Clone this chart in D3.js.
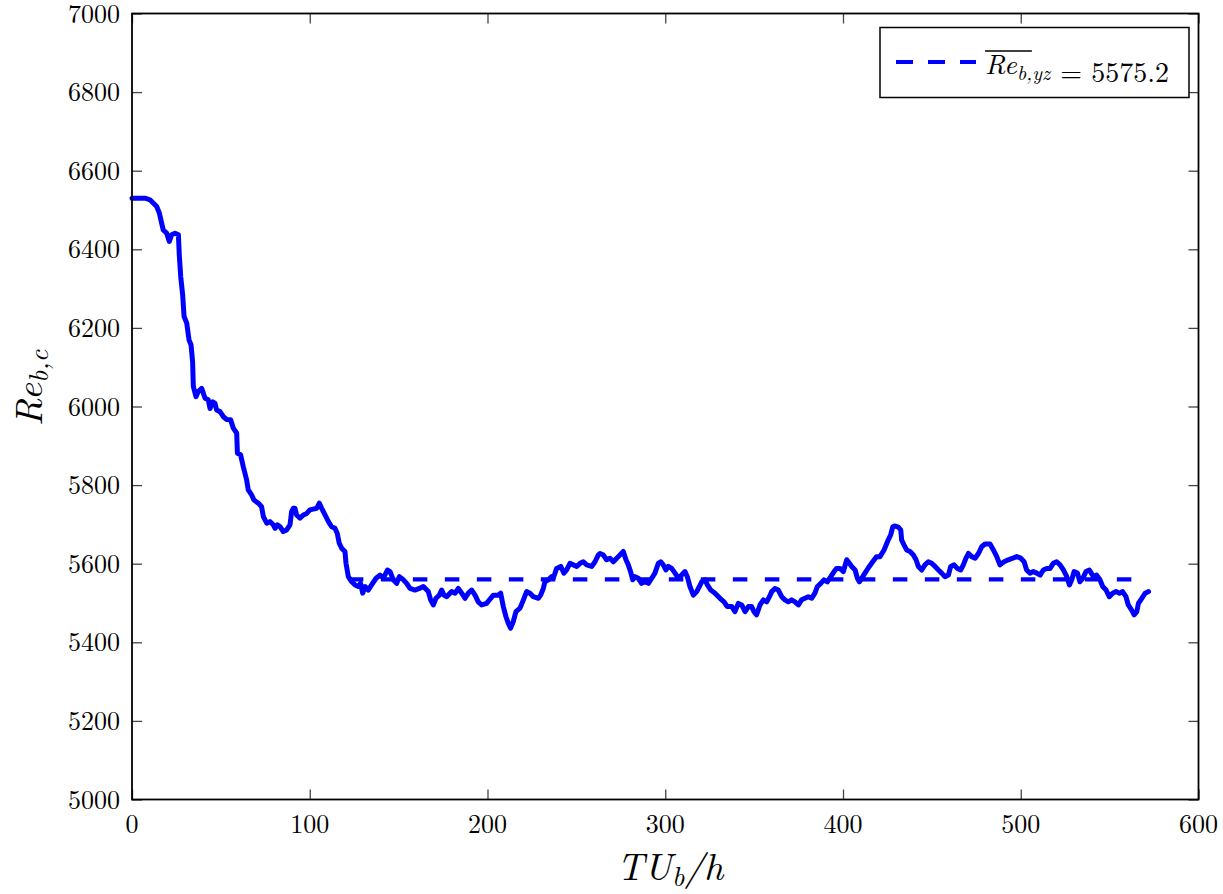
<!DOCTYPE html>
<html>
<head>
<meta charset="utf-8">
<script src="https://cdn.jsdelivr.net/npm/d3@7/dist/d3.min.js"></script>
<style>
  html, body { margin: 0; padding: 0; background: #ffffff; }
  svg { display: block; }
</style>
</head>
<body>
<svg id="chart" width="1223" height="894"></svg>
<script>
// ---------------- DATA ----------------
const xTicks = [0, 100, 200, 300, 400, 500, 600];
const yTicks = [5000, 5200, 5400, 5600, 5800, 6000, 6200, 6400, 6600, 6800, 7000];
const xDomain = [0, 600];
const yDomain = [5000, 7000];

const timeUb = [
  0, 7.3, 10.1, 13.9, 15.4, 16.7, 17.6, 19.5, 21.0, 22.3, 24.2, 26.1, 26.6, 27.4, 28.5, 29.3, 30.8, 32.1, 33.2, 34.1,
  34.5, 36.0, 37.3, 39.2, 41.1, 42.9, 43.9, 45.4, 46.7, 47.6, 49.5, 51.4, 53.3, 55.5, 57.0, 58.9, 59.3, 61.1, 62.6, 64.5,
  65.4, 67.3, 68.6, 71.1, 72.9, 73.9, 75.8, 77.6, 79.5, 80.5, 81.8, 83.3, 85.1, 87.0, 88.9, 89.8, 90.8, 91.7, 92.6, 94.5,
  96.4, 98.3, 100.1, 102.0, 103.9, 105.4, 106.7, 108.6, 110.5, 112.3, 114.2, 115.5, 116.6, 118.0, 119.8,
  120.4, 121.7, 123.6, 125.5, 127.3, 128.6, 129.8, 131.1, 132.9, 134.8, 137.3, 139.5, 141.4, 143.7, 145.2, 147.0, 148.9, 150.4, 152.7, 154.5,
  156.4, 159.2, 161.7, 163.9, 166.7, 168.0, 169.5, 171.0, 172.9, 174.2, 175.5, 177.0, 179.8, 181.7, 183.6, 185.5, 187.3, 189.2, 191.1, 193.0,
  194.8, 196.7, 199.5, 201.8, 203.3, 206.1, 207.4, 208.9, 210.4, 211.7, 213.0, 214.5, 216.0, 218.3, 220.2, 222.0, 223.9, 225.8, 228.6, 229.9,
  231.4, 232.3, 234.2, 236.1, 237.0, 238.9, 241.2, 243.0, 244.5, 246.4, 248.3, 250.2, 252.1, 253.9, 255.8, 258.6, 260.5, 262.3,
  263.3, 265.2, 267.0, 268.9, 270.8, 272.7, 274.5, 276.4, 277.9, 279.2, 280.5, 281.7, 283.0, 284.9, 286.7, 288.6, 290.5, 292.4, 294.2, 296.1,
  297.4, 298.9, 300.4, 301.7, 303.6, 305.5, 307.4, 309.2, 311.1, 312.4, 313.9, 315.8, 317.7, 319.2, 320.5, 322.4, 323.7, 325.6, 328.0, 330.8,
  333.1, 334.9, 337.4, 339.2, 341.1, 343.0, 344.9, 346.8, 348.6, 349.9, 351.4, 353.3, 355.2, 357.1, 358.6, 359.9, 361.7, 363.6, 365.5, 367.3,
  369.2, 371.1, 373.0, 374.9, 376.7, 378.6, 380.5, 382.4, 384.2, 385.6, 387.5, 389.3, 391.2, 393.1, 395.0, 396.4, 398.3, 400.2, 402.1, 403.6,
  404.9, 406.8, 408.1, 409.2, 411.1, 412.9, 414.8, 416.7, 418.9,
  420.8, 423.1, 425.0, 426.8, 428.0, 429.3, 431.1, 432.5, 433.0, 434.3, 435.8, 437.7, 439.6, 441.1, 442.4, 444.3, 446.1, 448.0, 449.9, 451.8,
  453.7, 455.5, 457.4, 459.3, 460.6, 462.5, 464.3, 466.2, 467.7, 469.2, 470.6, 472.4, 474.3, 476.2, 478.0, 479.9, 482.7, 484.6, 486.5, 488.3,
  490.6, 493.0, 495.5, 497.7, 500.0, 501.9, 503.3, 505.2, 507.1, 509.0, 510.9, 512.7, 514.6, 516.5, 518.3, 520.2, 522.1, 524.0, 525.9, 527.4,
  528.7, 530.0, 531.9, 533.3, 534.9, 536.7, 538.6, 540.9, 542.7, 544.6, 546.1, 548.0, 549.8, 551.7, 553.6, 555.5, 557.3, 559.2, 560.5, 562.4,
  563.8, 565.3, 566.2, 568.1, 570.0, 571.9
];

const reBc = [
  6530, 6530, 6526, 6509, 6492, 6466, 6449, 6441, 6420, 6437, 6441, 6437, 6386, 6331, 6284, 6229, 6212, 6169, 6157, 6114,
  6051, 6025, 6038, 6046, 6021, 6017, 5995, 6012, 6008, 5991, 5987, 5974, 5967, 5966, 5945, 5932, 5881, 5877, 5847, 5813,
  5788, 5775, 5762, 5754, 5745, 5720, 5703, 5707, 5699, 5690, 5699, 5694, 5682, 5686, 5699, 5733, 5741, 5741, 5724, 5716,
  5724, 5728, 5737, 5739, 5741, 5754, 5741, 5724, 5707, 5694, 5690, 5677, 5652, 5639, 5631,
  5601, 5567, 5554, 5546, 5542, 5550, 5525, 5542, 5533, 5546, 5563, 5571, 5563, 5584, 5580, 5559, 5550, 5567, 5559, 5550,
  5537, 5533, 5537, 5542, 5529, 5508, 5495, 5512, 5520, 5533, 5520, 5516, 5529, 5525, 5537, 5525, 5512, 5525, 5533, 5520,
  5503, 5495, 5499, 5512, 5520, 5520, 5525, 5491, 5465, 5448, 5436, 5453, 5478, 5487, 5508, 5529, 5525, 5516, 5512, 5520,
  5537, 5554, 5559, 5567, 5563, 5588, 5593, 5576, 5584, 5601, 5597, 5593, 5601, 5605, 5597, 5593, 5605, 5622,
  5626, 5622, 5610, 5614, 5605, 5614, 5622, 5631, 5610, 5597, 5580, 5559, 5567, 5563, 5550, 5554, 5550, 5563, 5576, 5601,
  5605, 5597, 5584, 5593, 5588, 5576, 5563, 5571, 5580, 5567, 5542, 5520, 5529, 5542, 5554, 5559, 5546, 5533, 5525, 5512,
  5503, 5491, 5491, 5478, 5499, 5495, 5478, 5491, 5491, 5478, 5470, 5495, 5508, 5503, 5516, 5529, 5537, 5533, 5516, 5508,
  5503, 5508, 5503, 5495, 5508, 5512, 5516, 5512, 5525, 5542, 5550, 5559, 5554, 5567, 5580, 5588, 5588, 5580, 5610, 5601,
  5593, 5584, 5563, 5554, 5567, 5580, 5593, 5605, 5618,
  5618, 5635, 5656, 5673, 5694, 5696, 5693, 5686, 5660, 5648, 5635, 5631, 5622, 5610, 5593, 5584, 5597, 5605, 5601, 5593,
  5584, 5576, 5567, 5571, 5593, 5597, 5588, 5584, 5597, 5614, 5626, 5618, 5614, 5626, 5643, 5650, 5650, 5635, 5618, 5597,
  5605, 5610, 5614, 5618, 5614, 5605, 5584, 5576, 5580, 5576, 5571, 5584, 5588, 5588, 5601, 5605, 5597, 5584, 5567, 5546,
  5559, 5580, 5576, 5554, 5563, 5580, 5584, 5567, 5571, 5559, 5542, 5533, 5516, 5525, 5529, 5525, 5529, 5516, 5495, 5482,
  5470, 5478, 5499, 5512, 5525, 5529
];

// drawn mean line
const meanValue = 5560;
const meanRange = [122, 563];
const legendLabel = { base: "Re", sub: "b,yz", rest: "= 5575.2" };

// ---------------- LAYOUT ----------------
const plot = { left: 132, right: 1198.5, top: 13.5, bottom: 799.5 };
const svg = d3.select("#chart");

const x = d3.scaleLinear().domain(xDomain).range([plot.left, plot.right]);
const y = d3.scaleLinear().domain(yDomain).range([plot.bottom, plot.top]);

const tickColor = "#444";
const TICK_FONT = '"Latin Modern Roman"';
const MATH_FONT = '"Latin Modern Roman"';

svg.append("rect").attr("width", 1223).attr("height", 894).attr("fill", "#fff");

// tick marks via d3 axes (inward), labels drawn separately
function styleTicks(g) {
  g.select(".domain").remove();
  g.selectAll(".tick line").attr("stroke", tickColor).attr("stroke-width", 1.3);
  g.selectAll(".tick text").remove();
}
svg.append("g").attr("transform", `translate(0,${plot.bottom})`)
  .call(d3.axisBottom(x).tickValues(xTicks).tickSizeInner(-10).tickSizeOuter(0)).call(styleTicks);
svg.append("g").attr("transform", `translate(0,${plot.top})`)
  .call(d3.axisTop(x).tickValues(xTicks).tickSizeInner(-10).tickSizeOuter(0)).call(styleTicks);
svg.append("g").attr("transform", `translate(${plot.left},0)`)
  .call(d3.axisLeft(y).tickValues(yTicks).tickSizeInner(-10).tickSizeOuter(0)).call(styleTicks);
svg.append("g").attr("transform", `translate(${plot.right},0)`)
  .call(d3.axisRight(y).tickValues(yTicks).tickSizeInner(-10).tickSizeOuter(0)).call(styleTicks);

// tick labels
svg.selectAll("text.xlab").data(xTicks).enter().append("text")
  .attr("class", "xlab")
  .attr("x", d => x(d)).attr("y", plot.bottom + 33)
  .attr("text-anchor", "middle")
  .style("font-family", TICK_FONT).style("font-size", "26px").style("fill", "#000")
  .text(d => String(d));
svg.selectAll("text.ylab").data(yTicks).enter().append("text")
  .attr("class", "ylab")
  .attr("x", plot.left - 12).attr("y", d => y(d) + 9)
  .attr("text-anchor", "end")
  .style("font-family", TICK_FONT).style("font-size", "26px").style("fill", "#000")
  .text(d => String(d));

// mean dashed line
svg.append("line")
  .attr("x1", x(meanRange[0])).attr("x2", x(meanRange[1]))
  .attr("y1", y(meanValue)).attr("y2", y(meanValue))
  .attr("stroke", "#0000ff").attr("stroke-width", 4.2)
  .attr("stroke-dasharray", "14.5,17.5");

// data curve
const pts = timeUb.map((t, i) => [t, reBc[i]]);
svg.append("path")
  .datum(pts)
  .attr("fill", "none")
  .attr("stroke", "#0000ff")
  .attr("stroke-width", 5)
  .attr("stroke-linejoin", "round")
  .attr("stroke-linecap", "round")
  .attr("d", d3.line().x(d => x(d[0])).y(d => y(d[1])));

// frame
svg.append("rect")
  .attr("x", plot.left).attr("y", plot.top)
  .attr("width", plot.right - plot.left).attr("height", plot.bottom - plot.top)
  .attr("fill", "none").attr("stroke", "#000").attr("stroke-width", 1.8);

// axis titles
const xt = svg.append("text")
  .attr("x", 670).attr("y", 880)
  .attr("text-anchor", "middle")
  .style("font-family", MATH_FONT).style("font-style", "italic").style("font-size", "38px");
xt.append("tspan").text("TU");
xt.append("tspan").attr("dy", 6).style("font-size", "27px").text("b");
xt.append("tspan").attr("dy", -6).text("/h");

const yt = svg.append("text")
  .attr("transform", "translate(42,388) rotate(-90)")
  .attr("text-anchor", "middle")
  .style("font-family", MATH_FONT).style("font-style", "italic").style("font-size", "38px");
yt.append("tspan").text("Re");
yt.append("tspan").attr("dy", 6).style("font-size", "27px").text("b,c");

// legend
const lg = svg.append("g");
lg.append("rect")
  .attr("x", 880).attr("y", 27.5).attr("width", 309).attr("height", 70)
  .attr("fill", "#fff").attr("stroke", "#000").attr("stroke-width", 1.5);
lg.append("line")
  .attr("x1", 896).attr("x2", 976).attr("y1", 62).attr("y2", 62)
  .attr("stroke", "#0000ff").attr("stroke-width", 4.2)
  .attr("stroke-dasharray", "17,15");

const lt = lg.append("text")
  .attr("x", 985).attr("y", 74)
  .style("font-family", MATH_FONT).style("font-size", "28px");
const t1 = lt.append("tspan").style("font-style", "italic").text(legendLabel.base);
const t2 = lt.append("tspan").attr("dy", 6).style("font-style", "italic").style("font-size", "20px").text(legendLabel.sub);
lt.append("tspan").attr("dy", 2).attr("dx", 10).text(legendLabel.rest);

const w1 = t1.node().getComputedTextLength();
const w2 = t2.node().getComputedTextLength();
lg.append("line")
  .attr("x1", 985).attr("x2", 985 + w1 + w2 * 0.45)
  .attr("y1", 51).attr("y2", 51)
  .attr("stroke", "#000").attr("stroke-width", 1.5);
</script>
</body>
</html>
